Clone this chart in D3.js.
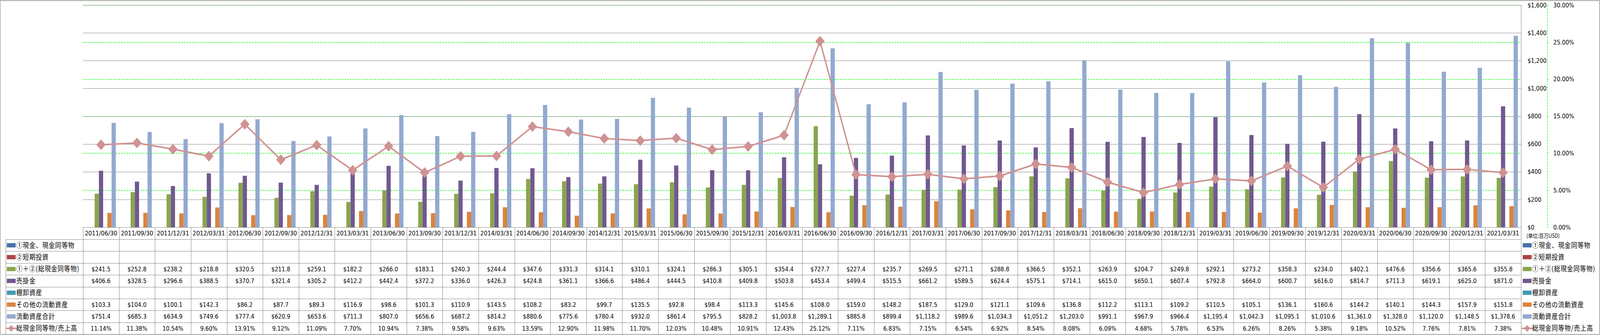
<!DOCTYPE html>
<html>
  <head>
    <meta charset="utf-8">
    <title>流動資産の推移</title>
    <style>
      html, body { margin: 0; padding: 0; width: 100%; height: 100%; overflow: hidden; background: #fff; }
      svg { display: block; width: 100vw; height: 100vh; }
      text { font-family: "DejaVu Sans", "Noto Sans CJK JP", sans-serif; }
      .jp { font-family: "Noto Sans CJK JP", sans-serif; }
    </style>
  </head>
  <body>
    <svg viewBox="0 0 4701 858" preserveAspectRatio="none"></svg>
    <script src="https://d3js.org/d3.v7.min.js"></script>
    <script>

    // quarters on the x axis
    var categories = ["2011/06/30","2011/09/30","2011/12/31","2012/03/31","2012/06/30","2012/09/30","2012/12/31","2013/03/31",
      "2013/06/30","2013/09/30","2013/12/31","2014/03/31","2014/06/30","2014/09/30","2014/12/31","2015/03/31",
      "2015/06/30","2015/09/30","2015/12/31","2016/03/31","2016/06/30","2016/09/30","2016/12/31","2017/03/31",
      "2017/06/30","2017/09/30","2017/12/31","2018/03/31","2018/06/30","2018/09/30","2018/12/31","2019/03/31",
      "2019/06/30","2019/09/30","2019/12/31","2020/03/31","2020/06/30","2020/09/30","2020/12/31","2021/03/31"];

    // series (百万USD); empty series have no values
    var cash = [];
    var shortInv = [];
    var totalCash = [241.5,252.8,238.2,218.8,320.5,211.8,259.1,182.2,266.0,183.1,240.3,244.4,347.6,331.3,314.1,310.1,
      324.1,286.3,305.1,354.4,727.7,227.4,235.7,269.5,271.1,288.8,366.5,352.1,263.9,204.7,249.8,292.1,
      273.2,358.3,234.0,402.1,476.6,356.6,365.6,355.8];
    var receivables = [406.6,328.5,296.6,388.5,370.7,321.4,305.2,412.2,442.4,372.2,336.0,426.3,424.8,361.1,366.6,486.4,
      444.5,410.8,409.8,503.8,453.4,499.4,515.5,661.2,589.5,624.4,575.1,714.1,615.0,650.1,607.4,792.8,
      664.0,600.7,616.0,814.7,711.3,619.1,625.0,871.0];
    var inventory = [];
    var otherCurrent = [103.3,104.0,100.1,142.3,86.2,87.7,89.3,116.9,98.6,101.3,110.9,143.5,108.2,83.2,99.7,135.5,
      92.8,98.4,113.3,145.6,108.0,159.0,148.2,187.5,129.0,121.1,109.6,136.8,112.2,113.1,109.2,110.5,
      105.1,136.1,160.6,144.2,140.1,144.3,157.9,151.8];
    var totalCurrent = [751.4,685.3,634.9,749.6,777.4,620.9,653.6,711.3,807.0,656.6,687.2,814.2,880.6,775.6,780.4,932.0,
      861.4,795.5,828.2,1003.8,1289.1,885.8,899.4,1118.2,989.6,1034.3,1051.2,1203.0,991.1,967.9,966.4,1195.4,
      1042.3,1095.1,1010.6,1361.0,1328.0,1120.0,1148.5,1378.6];
    // 総現金同等物/売上高 (%)
    var cashRatio = [11.14,11.38,10.54,9.60,13.91,9.12,11.09,7.70,10.94,7.38,9.58,9.63,13.59,12.90,11.98,11.70,
      12.03,10.48,10.91,12.43,25.12,7.11,6.83,7.15,6.54,6.92,8.54,8.08,6.09,4.68,5.78,6.53,
      6.26,8.26,5.38,9.18,10.52,7.76,7.81,7.38];

    var barNames = ["①現金、現金同等物","②短期投資","①＋②(総現金同等物)","売掛金","棚卸資産","その他の流動資産","流動資産合計"];
    var barData = [cash, shortInv, totalCash, receivables, inventory, otherCurrent, totalCurrent];
    var barColors = ["#4572a7","#aa4643","#89a54e","#71588f","#4198af","#db843d","#93a9cf"];
    var lineName = "総現金同等物/売上高";
    var lineColor = "#d09292";

    var leftTicks = [0,200,400,600,800,1000,1200,1400,1600];
    var rightTicks = [0,5,10,15,20,25,30];

    var svg = d3.select("svg"),
        W = 4701, H = 858,
        plot = {left: 244, right: 4469, top: 13, bottom: 582},
        rowH = 30.4,
        tableTop = 613,
        tableLeft = 16.7;

    var gridColor = "#878787";

    var x0 = d3.scaleBand().domain(categories).range([plot.left, plot.right]);
    var barW = x0.bandwidth() / 8.5;
    var x1 = d3.scaleBand().domain(barNames).range([0.75 * barW, x0.bandwidth() - 0.75 * barW]);
    var y = d3.scaleLinear().domain([0, 1600]).range([plot.bottom, plot.top]);
    var y2 = d3.scaleLinear().domain([0, 30]).range([plot.bottom, plot.top]);

    var fmtMoney = function(v) { return "$" + d3.format(",.1f")(v); };
    var fmtPct = function(v) { return v.toFixed(2) + "%"; };

    // outer frame
    svg.append("rect").attr("x", 0.5).attr("y", 1.5).attr("width", W - 2).attr("height", H - 3)
      .attr("fill", "#fff").attr("stroke", gridColor).attr("stroke-width", 1.5);

    // green dashed gridlines from the right axis, under the gray ones
    svg.append("g").selectAll("line").data(rightTicks.slice(1)).join("line")
      .attr("x1", plot.left).attr("x2", plot.right)
      .attr("y1", function(d) { return Math.round(y2(d)) + 0.5; })
      .attr("y2", function(d) { return Math.round(y2(d)) + 0.5; })
      .attr("stroke", "#00ff00").attr("stroke-width", 1.3).attr("stroke-dasharray", "5,3");

    svg.append("g").selectAll("line").data(leftTicks.slice(1)).join("line")
      .attr("x1", plot.left).attr("x2", plot.right)
      .attr("y1", function(d) { return Math.round(y(d)) + 0.5; })
      .attr("y2", function(d) { return Math.round(y(d)) + 0.5; })
      .attr("stroke", gridColor).attr("stroke-width", 1.2);

    // bars
    var groups = svg.append("g").selectAll("g").data(barNames).join("g")
      .attr("fill", function(d, i) { return barColors[i]; });
    groups.selectAll("rect")
      .data(function(d, i) { return barData[i].map(function(v, j) { return {name: d, cat: categories[j], v: v}; }); })
      .join("rect")
      .attr("x", function(d) { return x0(d.cat) + x1(d.name); })
      .attr("width", x1.bandwidth())
      .attr("y", function(d) { return y(d.v); })
      .attr("height", function(d) { return y(0) - y(d.v); });

    // ratio line on the percent axis
    var line = d3.line()
      .x(function(d, i) { return x0(categories[i]) + x0.bandwidth() / 2; })
      .y(function(d) { return y2(d); });
    svg.append("path").attr("d", line(cashRatio))
      .attr("fill", "none").attr("stroke", lineColor).attr("stroke-width", 4).attr("stroke-linejoin", "round");
    var diamond = d3.symbol().type(d3.symbolSquare).size(300);
    svg.append("g").selectAll("path").data(cashRatio).join("path")
      .attr("d", diamond)
      .attr("transform", function(d, i) {
        return "translate(" + (x0(categories[i]) + x0.bandwidth() / 2) + "," + y2(d) + ") rotate(45)";
      })
      .attr("fill", lineColor).attr("stroke", lineColor).attr("stroke-width", 2).attr("stroke-linejoin", "round");

    // plot border (top / right) and category axis
    svg.append("line").attr("x1", plot.left).attr("x2", plot.right).attr("y1", plot.top + 0.5).attr("y2", plot.top + 0.5).attr("stroke", gridColor).attr("stroke-width", 1.2);
    svg.append("line").attr("x1", plot.left).attr("x2", plot.right).attr("y1", plot.bottom + 0.5).attr("y2", plot.bottom + 0.5).attr("stroke", gridColor).attr("stroke-width", 1.2);
    svg.append("line").attr("x1", plot.right + 0.5).attr("x2", plot.right + 0.5).attr("y1", plot.top).attr("y2", tableTop + rowH * 8).attr("stroke", gridColor).attr("stroke-width", 1.2);

    // value axis labels (placed right of the plot)
    svg.append("g").selectAll("text").data(leftTicks).join("text")
      .attr("x", 4488).attr("y", function(d) { return y(d); }).attr("dy", "0.36em")
      .attr("font-size", 16).attr("fill", "#000")
      .text(function(d) { return "$" + d3.format(",")(d); });

    // percent axis: dashed green line with ticks
    var axisX = 4546;
    svg.append("line").attr("x1", axisX + 0.5).attr("x2", axisX + 0.5).attr("y1", plot.top).attr("y2", plot.bottom)
      .attr("stroke", "#00ff00").attr("stroke-width", 1.3).attr("stroke-dasharray", "5,3");
    svg.append("g").selectAll("line").data(rightTicks).join("line")
      .attr("x1", axisX).attr("x2", axisX + 4)
      .attr("y1", function(d) { return Math.round(y2(d)) + 0.5; })
      .attr("y2", function(d) { return Math.round(y2(d)) + 0.5; })
      .attr("stroke", "#00ff00").attr("stroke-width", 1.3);
    svg.append("g").selectAll("text").data(rightTicks).join("text")
      .attr("x", 4564).attr("y", function(d) { return y2(d); }).attr("dy", "0.36em")
      .attr("font-size", 16).attr("fill", "#000")
      .text(function(d) { return d.toFixed(2) + "%"; });

    svg.append("text").attr("class", "jp").attr("x", 4485).attr("y", 604).attr("dy", "0.36em")
      .attr("font-size", 14).attr("fill", "#000").text("(単位:百万USD)");

    // data table
    var table = svg.append("g");
    // category header
    table.selectAll("text.cat").data(categories).join("text").attr("class", "cat")
      .attr("x", function(d) { return x0(d) + x0.bandwidth() / 2; })
      .attr("y", (plot.bottom + tableTop) / 2).attr("dy", "0.36em")
      .attr("text-anchor", "middle").attr("font-size", 16.5).attr("fill", "#000")
      .text(function(d) { return d; });

    // horizontal rules
    var rowEdges = d3.range(9).map(function(r) { return tableTop + r * rowH; });
    table.selectAll("line.h").data(rowEdges).join("line").attr("class", "h")
      .attr("x1", tableLeft).attr("x2", plot.right)
      .attr("y1", function(d) { return Math.round(d) + 0.5; })
      .attr("y2", function(d) { return Math.round(d) + 0.5; })
      .attr("stroke", gridColor).attr("stroke-width", 1.2);
    // vertical rules
    table.selectAll("line.v").data(categories).join("line").attr("class", "v")
      .attr("x1", function(d) { return Math.round(x0(d)) + 0.5; })
      .attr("x2", function(d) { return Math.round(x0(d)) + 0.5; })
      .attr("y1", plot.bottom).attr("y2", rowEdges[8])
      .attr("stroke", gridColor).attr("stroke-width", 1.2);
    table.append("line").attr("x1", tableLeft + 0.5).attr("x2", tableLeft + 0.5)
      .attr("y1", tableTop).attr("y2", rowEdges[8]).attr("stroke", gridColor).attr("stroke-width", 1.2);

    var rows = barNames.map(function(n, i) { return {name: n, values: barData[i], color: barColors[i], fmt: fmtMoney, bar: true}; });
    rows.push({name: lineName, values: cashRatio, color: lineColor, fmt: fmtPct, bar: false});

    function legendKey(g, kx, cy, r) {
      if (r.bar) {
        g.append("rect").attr("x", kx).attr("y", cy - 5.5).attr("width", 26).attr("height", 11).attr("fill", r.color);
      } else {
        g.append("line").attr("x1", kx - 3).attr("x2", kx + 29).attr("y1", cy).attr("y2", cy)
          .attr("stroke", r.color).attr("stroke-width", 4);
        g.append("path").attr("d", d3.symbol().type(d3.symbolSquare).size(150))
          .attr("transform", "translate(" + (kx + 13) + "," + cy + ") rotate(45)").attr("fill", r.color);
      }
    }

    rows.forEach(function(r, ri) {
      var cy = tableTop + ri * rowH + rowH / 2;
      var g = table.append("g");
      legendKey(g, 20, cy, r);
      g.append("text").attr("class", "jp").attr("x", 48).attr("y", cy).attr("dy", "0.36em")
        .attr("font-size", 18).attr("letter-spacing", 1).attr("fill", "#000").text(r.name);
      g.selectAll("text.val").data(r.values).join("text").attr("class", "val")
        .attr("x", function(d, i) { return x0(categories[i]) + x0.bandwidth() / 2; })
        .attr("y", cy).attr("dy", "0.36em").attr("text-anchor", "middle")
        .attr("font-size", 16).attr("fill", "#000")
        .text(function(d) { return r.fmt(d); });

      // chart legend to the right of the table, one entry per row
      var lg = svg.append("g");
      legendKey(lg, 4474, cy, r);
      lg.append("text").attr("class", "jp").attr("x", 4502).attr("y", cy).attr("dy", "0.36em")
        .attr("font-size", 18).attr("letter-spacing", 1).attr("fill", "#000").text(r.name);
    });

    </script>
  </body>
</html>
